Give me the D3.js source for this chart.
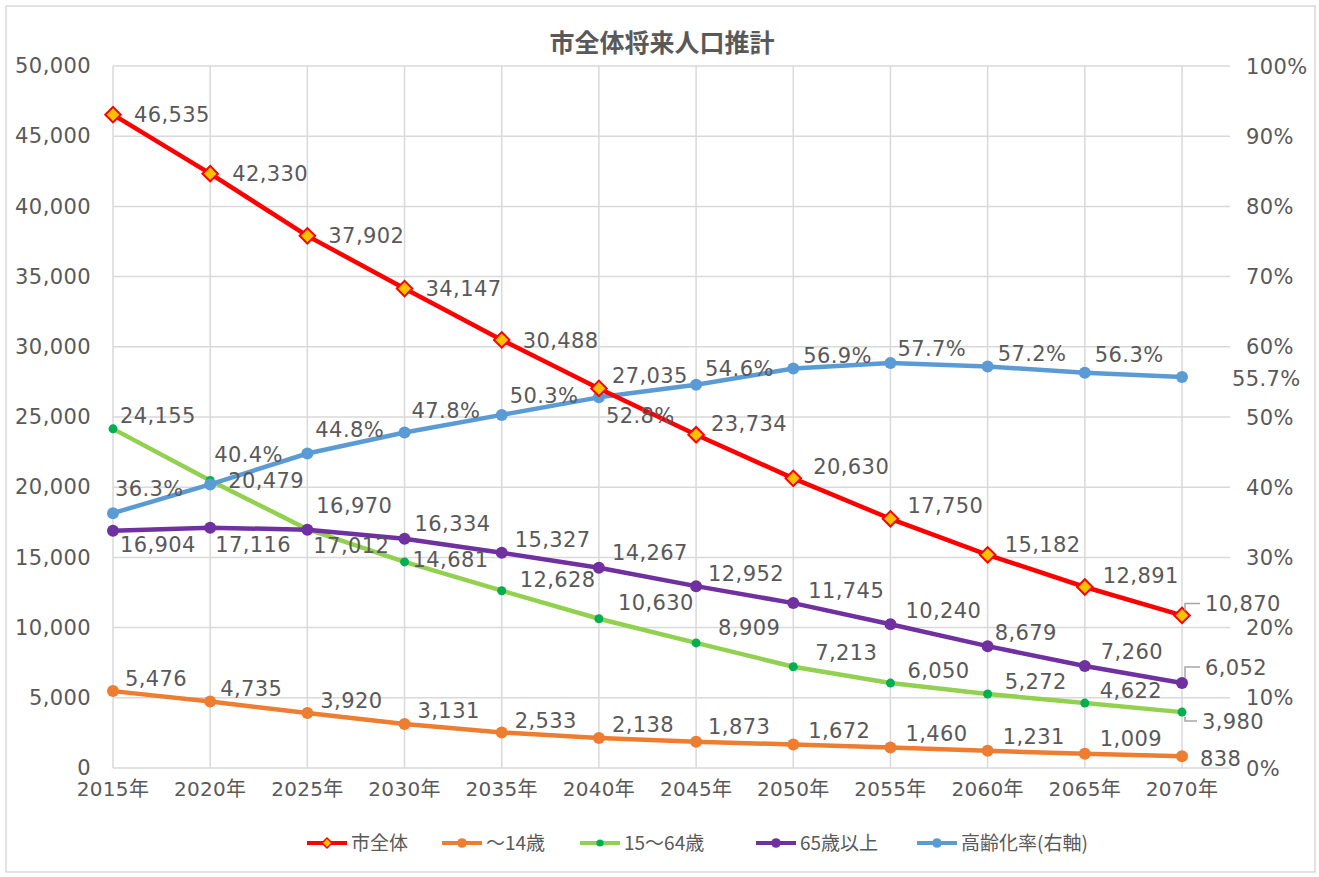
<!DOCTYPE html>
<html>
<head>
<meta charset="utf-8">
<script src="https://cdn.jsdelivr.net/npm/d3@7"></script>
<style>
  body { margin: 0; background: #fff; }
  text { font-family: "DejaVu Sans", "Noto Sans CJK JP", sans-serif; fill: #595959; }
</style>
</head>
<body>
<script>
// data
const years = ["2015年","2020年","2025年","2030年","2035年","2040年","2045年","2050年","2055年","2060年","2065年","2070年"];
const total = [46535, 42330, 37902, 34147, 30488, 27035, 23734, 20630, 17750, 15182, 12891, 10870];
const age0_14 = [5476, 4735, 3920, 3131, 2533, 2138, 1873, 1672, 1460, 1231, 1009, 838];
const age15_64 = [24155, 20479, 17012, 14681, 12628, 10630, 8909, 7213, 6050, 5272, 4622, 3980];
const age65 = [16904, 17116, 16970, 16334, 15327, 14267, 12952, 11745, 10240, 8679, 7260, 6052];
const agingRate = [36.3, 40.4, 44.8, 47.8, 50.3, 52.8, 54.6, 56.9, 57.7, 57.2, 56.3, 55.7];
const leftTicks = [0, 5000, 10000, 15000, 20000, 25000, 30000, 35000, 40000, 45000, 50000];
const rightTicks = [0, 10, 20, 30, 40, 50, 60, 70, 80, 90, 100];

// label offsets (dx, dy) from each point
const offTotal = [[21,0],[22,0],[21,0],[21,0],[21,0],[13,-13],[15,-11],[20,-12],[17,-13],[17,-10],[18,-12],[23,-12]];
const off0_14 = [[12,-13],[10,-13],[13,-13],[13,-14],[13,-12],[13,-14],[12,-15],[15,-14],[15,-14],[15,-14],[15,-15],[18,2]];
const off15_64 = [[7,-13],[18,0],[6,16],[8,-2],[18,-11],[19,-16],[22,-15],[22,-14],[17,-13],[17,-13],[15,-13],[20,9]];
const off65 = [[7,14],[5,17],[9,-24],[10,-15],[13,-13],[13,-15],[12,-13],[15,-13],[15,-14],[7,-14],[16,-15],[23,-16]];
const offRate = [[2,-25],[4,-30],[8,-24],[7,-22],[8,-19],[7,18],[9,-16],[10,-13],[7,-15],[10,-13],[10,-18],[50,1]];

const W = 1319, H = 877;
const svg = d3.select("body").append("svg").attr("width", W).attr("height", H);

svg.append("rect").attr("x", 6).attr("y", 6).attr("width", 1309).attr("height", 866)
  .attr("fill", "#fff").attr("stroke", "#d9d9d9").attr("stroke-width", 1.5);

var x = d3.scalePoint().domain(years).range([113, 1182]);
var y = d3.scaleLinear().domain([0, 50000]).range([768, 66]);
var y2 = d3.scaleLinear().domain([0, 100]).range([768, 66]);
const plotRight = 1230;

// gridlines
svg.append("g").selectAll("line").data(leftTicks).enter().append("line")
  .attr("x1", 113).attr("x2", plotRight)
  .attr("y1", d => y(d)).attr("y2", d => y(d))
  .attr("stroke", "#d9d9d9").attr("stroke-width", 1.5);
svg.append("g").selectAll("line").data(years).enter().append("line")
  .attr("x1", d => x(d)).attr("x2", d => x(d))
  .attr("y1", y(0)).attr("y2", y(50000))
  .attr("stroke", "#d9d9d9").attr("stroke-width", 1.5);

// axes labels
const fmt = d3.format(",");
svg.append("g").selectAll("text").data(leftTicks).enter().append("text")
  .attr("x", 91).attr("y", d => y(d)).attr("dy", "0.34em")
  .attr("text-anchor", "end").style("font-size", "21px").style("letter-spacing", "0.4px")
  .text(d => fmt(d));
svg.append("g").selectAll("text").data(rightTicks).enter().append("text")
  .attr("x", 1246).attr("y", d => y2(d)).attr("dy", "0.36em")
  .style("font-size", "21px").style("letter-spacing", "0.4px")
  .text(d => d + "%");
svg.append("g").selectAll("text").data(years).enter().append("text")
  .attr("x", d => x(d)).attr("y", 789).attr("dy", "0.36em")
  .attr("text-anchor", "middle").style("font-size", "20px").style("letter-spacing", "0.3px")
  .text(d => d);

// title
svg.append("text").attr("x", 662).attr("y", 43).attr("dy", "0.36em")
  .attr("text-anchor", "middle")
  .style("font-family", "'Noto Sans CJK JP', sans-serif")
  .style("font-size", "25px").style("font-weight", "bold")
  .text("市全体将来人口推計");

const series = [
  { name: "〜14歳", values: age0_14, scale: y, color: "#ED7D31", marker: "circle", r: 6, mfill: "#ED7D31", off: off0_14, pct: false },
  { name: "15〜64歳", values: age15_64, scale: y, color: "#92D050", marker: "circle", r: 4.5, mfill: "#00B050", off: off15_64, pct: false },
  { name: "65歳以上", values: age65, scale: y, color: "#7030A0", marker: "circle", r: 6, mfill: "#7030A0", off: off65, pct: false },
  { name: "高齢化率(右軸)", values: agingRate, scale: y2, color: "#5B9BD5", marker: "circle", r: 6, mfill: "#5B9BD5", off: offRate, pct: true },
  { name: "市全体", values: total, scale: y, color: "#FF0000", marker: "diamond", r: 8, mfill: "#FFC000", off: offTotal, pct: false }
];

series.forEach(function(s) {
  var line = d3.line().x((d, i) => x(years[i])).y(d => s.scale(d));
  svg.append("path").datum(s.values)
    .attr("d", line).attr("fill", "none")
    .attr("stroke", s.color).attr("stroke-width", 4.5).attr("stroke-linejoin", "round");
});

series.forEach(function(s) {
  var g = svg.append("g");
  if (s.marker === "diamond") {
    g.selectAll("path").data(s.values).enter().append("path")
      .attr("d", d3.symbol().type(d3.symbolSquare).size(120))
      .attr("transform", (d, i) => "translate(" + x(years[i]) + "," + s.scale(d) + ") rotate(45)")
      .attr("fill", s.mfill).attr("stroke", s.color).attr("stroke-width", 2);
  } else {
    g.selectAll("circle").data(s.values).enter().append("circle")
      .attr("cx", (d, i) => x(years[i])).attr("cy", d => s.scale(d))
      .attr("r", s.r).attr("fill", s.mfill);
  }
});

// leader lines for last points
function leader(px, py, lx, ly) {
  svg.append("polyline")
    .attr("points", [[px + 3, py + (ly < py ? -5 : 5)], [px + 3, ly], [lx, ly]].map(p => p.join(",")).join(" "))
    .attr("fill", "none").attr("stroke", "#a6a6a6").attr("stroke-width", 1.5);
}
leader(x(years[11]), y(total[11]), x(years[11]) + 18, y(total[11]) - 12);
leader(x(years[11]), y(age65[11]), x(years[11]) + 18, y(age65[11]) - 16);
leader(x(years[11]), y(age15_64[11]), x(years[11]) + 15, y(age15_64[11]) + 9);

// data labels
series.forEach(function(s) {
  svg.append("g").selectAll("text").data(s.values).enter().append("text")
    .attr("x", (d, i) => x(years[i]) + s.off[i][0])
    .attr("y", (d, i) => s.scale(d) + s.off[i][1])
    .attr("dy", "0.36em")
    .style("font-size", "21px").style("letter-spacing", "0.4px")
    .text(d => s.pct ? d.toFixed(1) + "%" : fmt(d));
});

// legend
const legendOrder = [series[4], series[0], series[1], series[2], series[3]];
const legendX = [307, 442, 580, 756, 917];
const lg = svg.append("g");
legendOrder.forEach(function(s, i) {
  var lx = legendX[i], ly = 843;
  lg.append("line").attr("x1", lx).attr("x2", lx + 40).attr("y1", ly).attr("y2", ly)
    .attr("stroke", s.color).attr("stroke-width", 4);
  if (s.marker === "diamond") {
    lg.append("path").attr("d", d3.symbol().type(d3.symbolSquare).size(50))
      .attr("transform", "translate(" + (lx + 20) + "," + ly + ") rotate(45)")
      .attr("fill", s.mfill).attr("stroke", s.color).attr("stroke-width", 1.5);
  } else {
    lg.append("circle").attr("cx", lx + 20).attr("cy", ly).attr("r", s.r * 0.8).attr("fill", s.mfill);
  }
  lg.append("text").attr("x", lx + 44).attr("y", ly).attr("dy", "0.36em")
    .style("font-family", "'Noto Sans CJK JP', sans-serif").style("font-size", "19px")
    .text(s.name);
});
</script>
</body>
</html>
